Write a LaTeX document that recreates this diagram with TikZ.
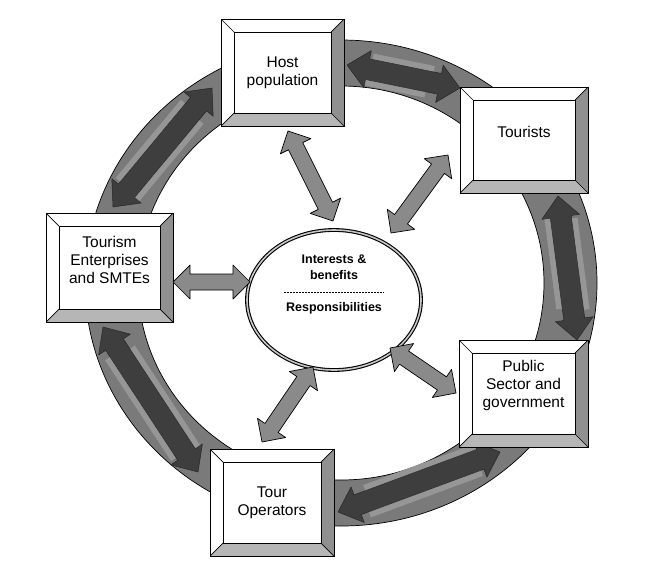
\documentclass[tikz,border=0pt]{standalone}
\usepackage{fontspec}
\setmainfont{Liberation Sans}
\usetikzlibrary{calc,shapes.geometric}
\definecolor{ringgray}{HTML}{7A7A7A}
\definecolor{darkarr}{HTML}{3E3E3E}
\definecolor{bandgray}{HTML}{969696}
\definecolor{spokegray}{HTML}{8A8A8A}
\definecolor{bevelR}{HTML}{909090}
\definecolor{bevelB}{HTML}{B6B6B6}
\newcommand\mydblarrow[7]{%
  \coordinate (#7A) at ($(#2)!#4!(#3)$);
  \coordinate (#7B) at ($(#3)!#4!(#2)$);
  \path[#1] (#2) -- ($(#7A)!#5!90:(#3)$) -- ($(#7A)!#6!90:(#3)$) -- ($(#7B)!#6!-90:(#2)$) -- ($(#7B)!#5!-90:(#2)$) -- (#3) -- ($(#7B)!#5!90:(#2)$) -- ($(#7B)!#6!90:(#2)$) -- ($(#7A)!#6!-90:(#3)$) -- ($(#7A)!#5!-90:(#3)$) -- cycle;
}
\newcommand\myringarrow[3]{%
  \mydblarrow{fill=darkarr}{#1}{#2}{21pt}{19pt}{10.5pt}{#3}
  \coordinate (#3C) at ($(#3A)!3pt!(#2)$);
  \coordinate (#3D) at ($(#3B)!8pt!(#1)$);
  \coordinate (#3E) at ($(#3A)!0pt!(#2)$);
  \coordinate (#3F) at ($(#3B)!12pt!(#1)$);
  \draw[bandgray, line width=6pt] ($(#3C)!13.5pt!90:(#2)$) -- ($(#3D)!13.5pt!-90:(#1)$);
  \draw[bandgray, line width=6pt] ($(#3E)!13.5pt!-90:(#2)$) -- ($(#3F)!13.5pt!90:(#1)$);
  \mydblarrow{draw=black!85, line width=0.5pt, line join=round}{#1}{#2}{21pt}{19pt}{10.5pt}{#3}
}
\newcommand\myspoke[3]{%
  \mydblarrow{fill=spokegray, draw=black, line width=0.7pt, line join=round}{#1}{#2}{17pt}{17pt}{8pt}{#3}
}
\tikzset{
  bevelbox/.style={rectangle, draw, line width=0.8pt, fill=white, inner sep=0pt,
    path picture={
      \fill[bevelR] (path picture bounding box.north east) -- (path picture bounding box.south east)
        -- ([shift={(-13pt,13pt)}]path picture bounding box.south east)
        -- ([shift={(-13pt,-13pt)}]path picture bounding box.north east) -- cycle;
      \fill[bevelB] (path picture bounding box.south west) -- (path picture bounding box.south east)
        -- ([shift={(-13pt,13pt)}]path picture bounding box.south east)
        -- ([shift={(13pt,13pt)}]path picture bounding box.south west) -- cycle;
      \draw[line width=0.7pt] ([shift={(13pt,-13pt)}]path picture bounding box.north west)
        rectangle ([shift={(-13pt,13pt)}]path picture bounding box.south east);
      \draw[line width=0.7pt] (path picture bounding box.north west) -- ++(13pt,-13pt);
      \draw[line width=0.7pt] (path picture bounding box.north east) -- ++(-13pt,-13pt);
      \draw[line width=0.7pt] (path picture bounding box.south west) -- ++(13pt,13pt);
      \draw[line width=0.7pt] (path picture bounding box.south east) -- ++(-13pt,13pt);
    }},
  boxlabel/.style={font=\fontsize{15.5}{18}\selectfont, align=center, inner sep=0pt},
  ctext/.style={font=\bfseries\fontsize{12.5}{16.5}\selectfont, align=center, inner sep=0pt},
}
\begin{document}
\begin{tikzpicture}[x=1pt,y=-1pt]
\useasboundingbox (0,0) rectangle (650,579);
\fill[white] (0,0) rectangle (650,579);
% ring
\coordinate (ringc) at (341,283);
\fill[ringgray, even odd rule] (ringc) ellipse [x radius=256, y radius=243]
  (ringc) ellipse [x radius=203, y radius=197];
\draw[line width=0.7pt] (ringc) ellipse [x radius=256, y radius=243];
\draw[line width=0.7pt] (ringc) ellipse [x radius=203, y radius=197];
% ring arrow ends
\coordinate (r1a) at (347,65);  \coordinate (r1b) at (460,88);
\coordinate (r2a) at (558,196); \coordinate (r2b) at (577,340);
\coordinate (r3a) at (500,452); \coordinate (r3b) at (338,512);
\coordinate (r4a) at (198,472); \coordinate (r4b) at (103,327);
\coordinate (r5a) at (113,207); \coordinate (r5b) at (212,88);
\myringarrow{r1a}{r1b}{r1}
\myringarrow{r2a}{r2b}{r2}
\myringarrow{r3a}{r3b}{r3}
\myringarrow{r4a}{r4b}{r4}
\myringarrow{r5a}{r5b}{r5}
% boxes
\node[bevelbox, minimum width=123pt, minimum height=107pt,
  label={[boxlabel]center:Host\\population}] (host) at (282.5,72.5) {};
\node[bevelbox, minimum width=128pt, minimum height=106pt,
  label={[boxlabel,yshift=8pt]center:Tourists}] (tourists) at (524,140) {};
\node[bevelbox, minimum width=129pt, minimum height=107pt,
  label={[boxlabel,yshift=8pt]center:Public\\Sector and\\government}] (public) at (523.5,393.5) {};
\node[bevelbox, minimum width=124pt, minimum height=107pt,
  label={[boxlabel]center:Tour\\Operators}] (tour) at (272,502.5) {};
\node[bevelbox, minimum width=127pt, minimum height=109pt,
  label={[boxlabel,yshift=8pt]center:Tourism\\Enterprises\\and SMTEs}] (smte) at (109.5,267.5) {};
% centre
\node[ellipse, draw=black, line width=1.1pt, double=gray!45, double distance=1.6pt, fill=white,
  inner sep=0pt, minimum width=174pt, minimum height=140pt] (centre) at (334,300) {};
\node[ctext] (interests) at ([yshift=33pt]centre.center) {Interests \&\\benefits};
\node[ctext] (resp) at ([yshift=-8pt]centre.center) {Responsibilities};
\draw[line width=0.6pt, dash pattern=on 2pt off 1pt] ([shift={(-50pt,8pt)}]centre.center) -- ([shift={(50pt,8pt)}]centre.center);
% spokes
\coordinate (s1a) at (288,131); \coordinate (s1b) at (333,221);
\coordinate (s2a) at (448,155); \coordinate (s2b) at (391,233);
\coordinate (s3a) at (173,282); \coordinate (s3b) at (250,282);
\coordinate (s4a) at (262,442); \coordinate (s4b) at (313,367);
\coordinate (s5a) at (456,393); \coordinate (s5b) at (390,348);
\myspoke{s1a}{s1b}{s1}
\myspoke{s2a}{s2b}{s2}
\myspoke{s3a}{s3b}{s3}
\myspoke{s4a}{s4b}{s4}
\myspoke{s5a}{s5b}{s5}
\end{tikzpicture}
\end{document}
